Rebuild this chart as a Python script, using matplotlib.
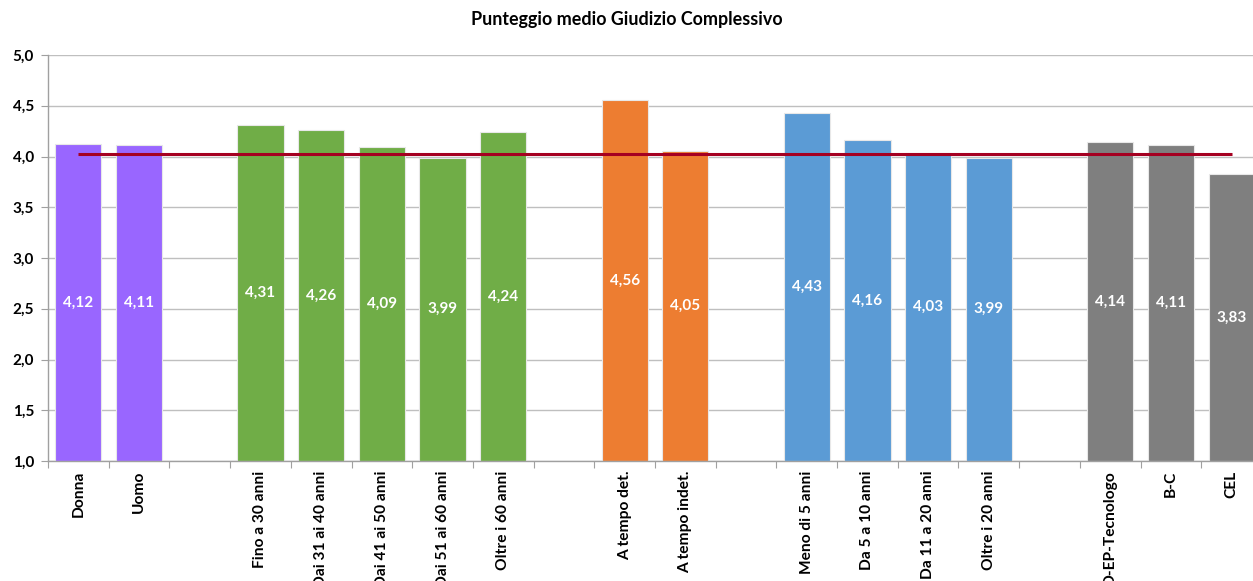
import matplotlib
matplotlib.use("Agg")
import matplotlib.pyplot as plt
import numpy as np

plt.rcParams['font.family'] = ['Lato', 'DejaVu Sans']

# Category labels; empty strings are spacer slots between groups
categories = ["Donna", "Uomo", "",
              "Fino a 30 anni", "Dai 31 ai 40 anni", "Dai 41 ai 50 anni",
              "Dai 51 ai 60 anni", "Oltre i 60 anni", "",
              "A tempo det.", "A tempo indet.", "",
              "Meno di 5 anni", "Da 5 a 10 anni", "Da 11 a 20 anni", "Oltre i 20 anni", "",
              "D-EP-Tecnologo", "B-C", "CEL"]
values = [4.12, 4.11, None,
          4.31, 4.26, 4.09, 3.99, 4.24, None,
          4.56, 4.05, None,
          4.43, 4.16, 4.03, 3.99, None,
          4.14, 4.11, 3.83]
group_colors = ["#9966FF", "#9966FF", None,
                "#70AD47", "#70AD47", "#70AD47", "#70AD47", "#70AD47", None,
                "#ED7D31", "#ED7D31", None,
                "#5B9BD5", "#5B9BD5", "#5B9BD5", "#5B9BD5", None,
                "#7F7F7F", "#7F7F7F", "#7F7F7F"]
overall_mean = 4.02
y_ticks = [1.0, 1.5, 2.0, 2.5, 3.0, 3.5, 4.0, 4.5, 5.0]
base = 1.0

fig = plt.figure(figsize=(12.53, 5.81), dpi=100)
ax = fig.add_axes([48 / 1253, 120 / 581, 1214 / 1253, 406 / 581])

x = np.arange(len(categories))
for xi, v, c in zip(x, values, group_colors):
    if v is None:
        continue
    ax.bar(xi, v - base, bottom=base, width=0.76, color=c,
           edgecolor="#E8E8E8", linewidth=0.8, zorder=2)
    ax.text(xi, base + (v - base) / 2, f"{v:.2f}".replace(".", ","),
            ha="center", va="center", color="white",
            fontsize=11, fontweight="bold", zorder=4)

# Overall mean line from first to last category
ax.plot([x[0], x[-1]], [overall_mean, overall_mean], color="#A50021",
        linewidth=2.2, zorder=3, solid_capstyle="butt")

ax.set_xlim(-0.5, len(categories) - 0.5)
ax.set_ylim(1.0, 5.0)
ax.set_yticks(y_ticks)
ax.set_yticklabels([f"{t:.1f}".replace(".", ",") for t in y_ticks],
                   fontsize=11, fontweight="bold")
ax.yaxis.grid(True, color="#BFBFBF", linewidth=1.0, zorder=0)
ax.set_axisbelow(True)

ax.set_xticks(np.arange(len(categories) + 1) - 0.5)
ax.set_xticklabels([])
ax.set_xticks(x, minor=True)
ax.set_xticklabels(categories, minor=True, rotation=90, fontsize=11.2,
                   fontweight="bold", va="top", ha="center")
ax.tick_params(axis="x", which="minor", length=0, pad=7)
ax.tick_params(axis="x", which="major", length=5, color="#A0A0A0", direction="out")
ax.tick_params(axis="y", length=5, color="#A0A0A0", direction="out", pad=5)

for side in ["top", "right"]:
    ax.spines[side].set_visible(False)
for side in ["left", "bottom"]:
    ax.spines[side].set_color("#A0A0A0")
    ax.spines[side].set_linewidth(1.0)

fig.text(0.5, 1 - 20 / 581, "Punteggio medio Giudizio Complessivo",
         ha="center", va="center", fontsize=12.9, fontweight="bold")

fig.savefig("out.png", dpi=100)
